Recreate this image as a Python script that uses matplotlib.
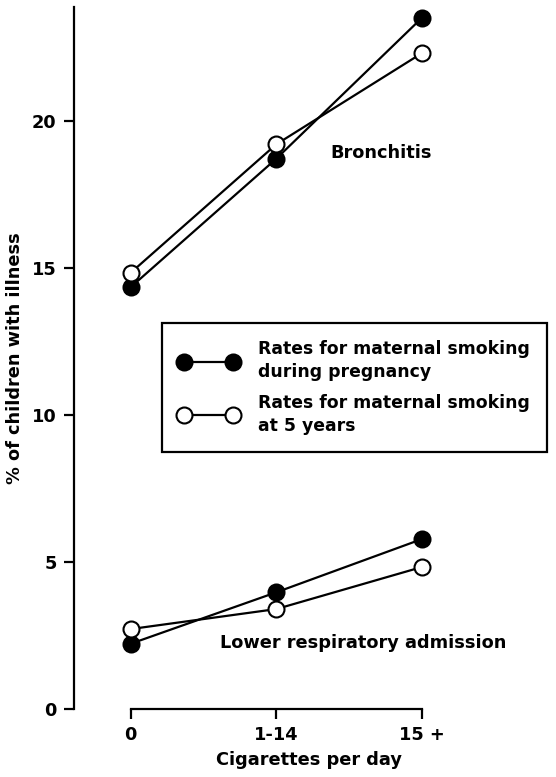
import matplotlib
matplotlib.use('Agg')
from matplotlib import pyplot as plt
from matplotlib.lines import Line2D

categories = ['0', '1-14', '15 +']
bronchitis_preg = [14.35, 18.72, 23.51]
bronchitis_5yr = [14.84, 19.21, 22.31]
lower_resp_preg = [2.22, 3.97, 5.78]
lower_resp_5yr = [2.72, 3.40, 4.83]
y_ticks = [0, 5, 10, 15, 20]
legend_labels = ['Rates for maternal smoking\nduring pregnancy',
                 'Rates for maternal smoking\nat 5 years']

plt.rcParams['font.family'] = ['DejaVu Sans']
plt.rcParams['font.size'] = 12.8
plt.rcParams['font.weight'] = 'bold'

fig = plt.figure(figsize=(5.56, 7.77), dpi=100)
ax = fig.add_axes([0.133, 0.0875, 0.847, 0.9031])

x = list(range(len(categories)))
filled = dict(color='black', lw=1.6, marker='o', ms=11.5, mfc='black', mec='black', mew=1.5)
hollow = dict(color='black', lw=1.6, marker='o', ms=11.5, mfc='white', mec='black', mew=1.5)

ax.plot(x, bronchitis_preg, **filled, zorder=3)
ax.plot(x, bronchitis_5yr, **hollow, zorder=3)
ax.plot(x, lower_resp_preg, **filled, zorder=3)
ax.plot(x, lower_resp_5yr, **hollow, zorder=3)

ax.set_xlim(-0.39, 2.845)
ax.set_ylim(0, 23.87)

ax.spines['top'].set_visible(False)
ax.spines['right'].set_visible(False)
ax.spines['bottom'].set_bounds(0, 2)
ax.spines['left'].set_linewidth(1.6)
ax.spines['bottom'].set_linewidth(1.6)

ax.set_xticks(x)
ax.set_xticklabels(categories)
ax.set_yticks(y_ticks)
ax.tick_params(axis='both', direction='out', length=7.5, width=1.6, pad=5)

ax.set_xlabel('Cigarettes per day', labelpad=5, fontweight='bold')
ax.set_ylabel('% of children with illness', labelpad=6, fontweight='bold')

ax.text(1.72, 18.9, 'Bronchitis', ha='center', va='center')
ax.text(0.61, 2.24, 'Lower respiratory admission', ha='left', va='center')

handles = [Line2D([], [], **filled), Line2D([], [], **hollow)]
leg = fig.legend(handles, legend_labels, loc='upper left',
                 bbox_to_anchor=(162 / 556, 1 - 323 / 777),
                 numpoints=2, handlelength=3.4, handletextpad=1.15,
                 frameon=True, fancybox=False, edgecolor='black', framealpha=1,
                 borderpad=1.0, labelspacing=0.75, borderaxespad=0,
                 prop={'size': 12.4, 'weight': 'bold'})
for t in leg.get_texts():
    t.set_linespacing(1.35)
leg.get_frame().set_linewidth(1.6)

fig.savefig('out.png', dpi=100)
